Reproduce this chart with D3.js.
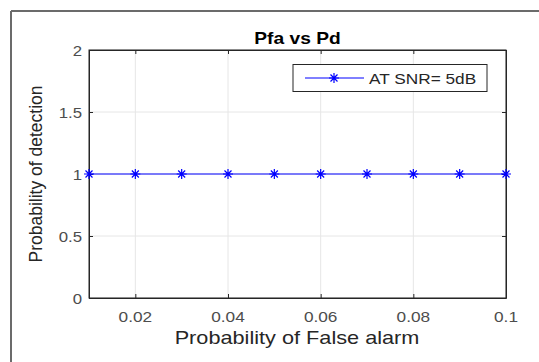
<!DOCTYPE html>
<html><head><meta charset="utf-8">
<script src="https://cdn.jsdelivr.net/npm/d3@7"></script>
<style>body{margin:0;background:#fff}svg{display:block;font-family:"Liberation Sans",Arial,sans-serif}</style>
</head><body><svg id="c" width="539" height="362"></svg>
<script>
const pfa = [0.01,0.02,0.03,0.04,0.05,0.06,0.07,0.08,0.09,0.1];
const pd = [1,1,1,1,1,1,1,1,1,1];
const xTicks = [0.02,0.04,0.06,0.08,0.1];
const yTicks = [0,0.5,1,1.5,2];
const seriesName = "AT SNR= 5dB";
const titleText = "Pfa vs Pd";
const xLabel = "Probability of False alarm";
const yLabel = "Probability of detection";

const svg = d3.select("#c");
const L=89,R=506,T=50,B=298;
const x = d3.scaleLinear().domain([0.01,0.1]).range([L,R]);
const y = d3.scaleLinear().domain([0,2]).range([B,T]);
const fmt = d3.format("");

// outer frame
svg.append("line").attr("x1",11).attr("x2",539).attr("y1",11).attr("y2",11).attr("stroke","#6b6b6b").attr("stroke-width",2);
svg.append("line").attr("x1",11).attr("x2",11).attr("y1",11).attr("y2",362).attr("stroke","#6b6b6b").attr("stroke-width",2);

// grid
svg.append("g").selectAll("line").data(xTicks).join("line")
  .attr("x1",d=>x(d)).attr("x2",d=>x(d)).attr("y1",T).attr("y2",B).attr("stroke","#e6e6e6");
svg.append("g").selectAll("line").data(yTicks).join("line")
  .attr("y1",d=>y(d)).attr("y2",d=>y(d)).attr("x1",L).attr("x2",R).attr("stroke","#e6e6e6");

// axes (ticks only, labels drawn separately)
const xa = svg.append("g").attr("transform",`translate(0,${B})`)
  .call(d3.axisBottom(x).tickValues(xTicks).tickSize(-4).tickSizeOuter(0).tickFormat(""));
const xa2 = svg.append("g").attr("transform",`translate(0,${T})`)
  .call(d3.axisTop(x).tickValues(xTicks).tickSize(-4).tickSizeOuter(0).tickFormat(""));
const ya = svg.append("g").attr("transform",`translate(${L},0)`)
  .call(d3.axisLeft(y).tickValues(yTicks).tickSize(-4).tickSizeOuter(0).tickFormat(""));
const ya2 = svg.append("g").attr("transform",`translate(${R},0)`)
  .call(d3.axisRight(y).tickValues(yTicks).tickSize(-4).tickSizeOuter(0).tickFormat(""));
[xa,xa2,ya,ya2].forEach(g=>{
  g.selectAll("path").attr("stroke","#262626");
  g.selectAll("line").attr("stroke","#262626");
});
svg.append("rect").attr("x",L).attr("y",T).attr("width",R-L).attr("height",B-T).attr("fill","none").attr("stroke","#262626").attr("stroke-width",1);

// stretched text helper
function stext(px,py,str,size,sx,anchor,opts={}){
  const t = svg.append("text").attr("transform",`translate(${px},${py}) scale(${sx},1)`)
    .attr("text-anchor",anchor).text(str).style("font-size",size+"px").attr("fill",opts.fill||"#4d4d4d");
  if(opts.bold) t.style("font-weight","bold");
  return t;
}
xTicks.forEach(d=>stext(x(d),322,fmt(d),15,1.15,"middle"));
yTicks.forEach(d=>stext(L-7,y(d)+5.5,fmt(d),15,1.12,"end"));

// line
const line = d3.line().x((d,i)=>x(pfa[i])).y(d=>y(d));
svg.append("path").datum(pd).attr("d",line).attr("fill","none").attr("stroke","#0000ff").attr("stroke-width",1);
function star(g,cx,cy){
  const r=5;
  g.append("path").attr("d",`M${cx-r},${cy}H${cx+r}M${cx},${cy-r}V${cy+r}M${cx-r*0.7},${cy-r*0.7}L${cx+r*0.7},${cy+r*0.7}M${cx-r*0.7},${cy+r*0.7}L${cx+r*0.7},${cy-r*0.7}`)
   .attr("stroke","#0000ff").attr("stroke-width",1.2).attr("fill","none");
}
const mg = svg.append("g");
pd.forEach((d,i)=>star(mg,x(pfa[i]),y(d)));

// legend
svg.append("rect").attr("x",293).attr("y",64.5).attr("width",194).attr("height",27).attr("fill","#fff").attr("stroke","#262626").attr("stroke-width",1);
svg.append("line").attr("x1",305).attr("x2",364).attr("y1",78).attr("y2",78).attr("stroke","#0000ff");
star(svg,334,78);
stext(369,83.5,seriesName,15,1.15,"start",{fill:"#262626"});

// title & labels
stext(297.5,43.5,titleText,16,1.2,"middle",{fill:"#000",bold:true});
stext(297,344,xLabel,17.5,1.24,"middle",{fill:"#262626"});
svg.append("text").attr("transform","translate(42,174) rotate(-90) ").attr("text-anchor","middle").text(yLabel).style("font-size","17.5px").attr("fill","#262626");
</script></body></html>
